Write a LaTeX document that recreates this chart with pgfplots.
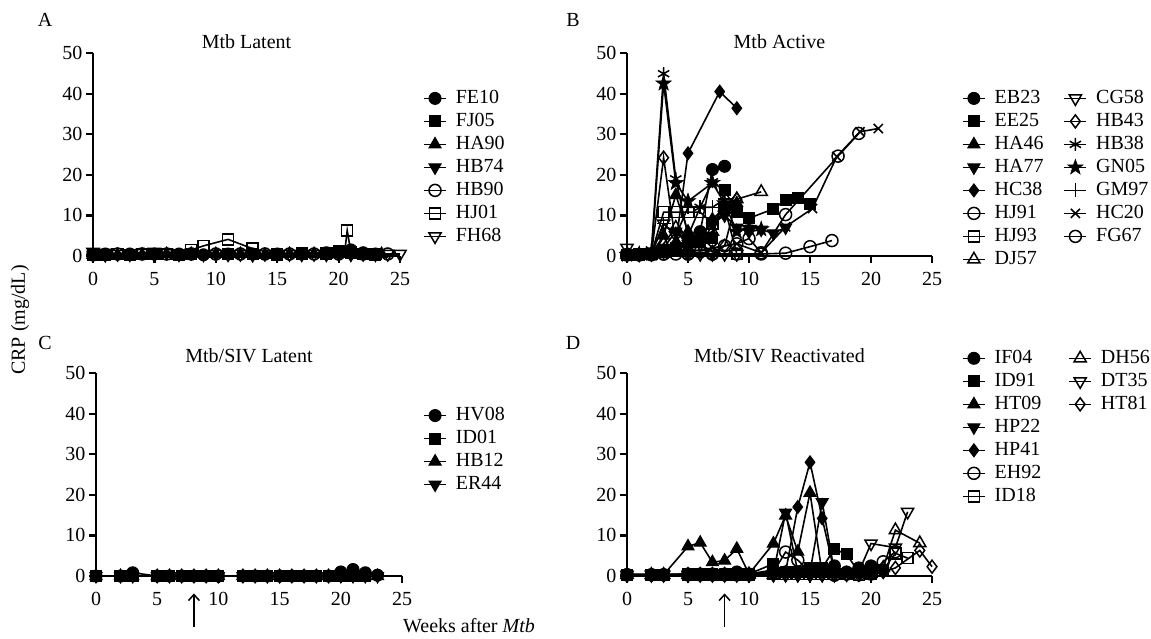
\documentclass[border=0pt]{standalone}
\usepackage{pgfplots}
\pgfplotsset{compat=1.18}
\usepackage{fontspec}
\setmainfont{Liberation Serif}
\usetikzlibrary{arrows.meta}
\newcommand{\fs}{\fontsize{20}{22}\selectfont}
\pgfdeclareplotmark{fstar}{%
  \pgfpathmoveto{\pgfqpointpolar{90}{1.25\pgfplotmarksize}}%
  \pgfpathlineto{\pgfqpointpolar{126}{0.5\pgfplotmarksize}}%
  \pgfpathlineto{\pgfqpointpolar{162}{1.25\pgfplotmarksize}}%
  \pgfpathlineto{\pgfqpointpolar{198}{0.5\pgfplotmarksize}}%
  \pgfpathlineto{\pgfqpointpolar{234}{1.25\pgfplotmarksize}}%
  \pgfpathlineto{\pgfqpointpolar{270}{0.5\pgfplotmarksize}}%
  \pgfpathlineto{\pgfqpointpolar{306}{1.25\pgfplotmarksize}}%
  \pgfpathlineto{\pgfqpointpolar{342}{0.5\pgfplotmarksize}}%
  \pgfpathlineto{\pgfqpointpolar{18}{1.25\pgfplotmarksize}}%
  \pgfpathlineto{\pgfqpointpolar{54}{0.5\pgfplotmarksize}}%
  \pgfpathclose\pgfusepathqfillstroke}
\pgfplotsset{
 dline/.style={black, line width=1.6pt},
 mFC/.style={dline, mark=*, mark size=6pt, mark options={solid, fill=black, line width=1pt}},
 mFS/.style={dline, mark=square*, mark size=5.5pt, mark options={solid, fill=black, line width=1pt}},
 mFT/.style={dline, mark=triangle*, mark size=7pt, mark options={solid, fill=black, line width=1pt}},
 mFV/.style={dline, mark=triangle*, mark size=7pt, mark options={solid, fill=black, line width=1pt, rotate=180}},
 mFD/.style={dline, mark=diamond*, mark size=6.5pt, mark options={solid, fill=black, line width=1pt}},
 mOC/.style={dline, mark=o, mark size=6pt, mark options={solid, line width=1.5pt}},
 mOS/.style={dline, mark=square, mark size=5.5pt, mark options={solid, line width=1.5pt}},
 mOT/.style={dline, mark=triangle, mark size=7pt, mark options={solid, line width=1.5pt}},
 mOV/.style={dline, mark=triangle, mark size=7pt, mark options={solid, line width=1.5pt, rotate=180}},
 mOD/.style={dline, mark=diamond, mark size=6.5pt, mark options={solid, line width=1.5pt}},
 mAst/.style={dline, mark=asterisk, mark size=6.5pt, mark options={solid, line width=1.5pt}},
 mStar/.style={dline, mark=fstar, mark size=6.5pt, mark options={solid, fill=black, line width=0.5pt}},
 mPlus/.style={dline, mark=+, mark size=7pt, mark options={solid, line width=1.5pt}},
 mX/.style={dline, mark=x, mark size=6.5pt, mark options={solid, line width=1.5pt}},
 panel/.style={
  scale only axis, height=203pt,
  xmin=0, xmax=25, ymin=0, ymax=50,
  axis lines=left, axis line style={-, line width=2.5pt},
  xtick={0,5,...,25}, ytick={0,10,...,50},
  tick align=outside, major tick length=7pt,
  tick style={line width=2.2pt, black},
  xticklabel style={font=\fs, yshift=-6pt},
  yticklabel style={font=\fs},
  /pgf/number format/assume math mode=true,
  clip=false,
  legend style={draw=none, fill=none, font=\fs, inner sep=0pt, row sep=4.5pt,
    nodes={inner sep=0pt, text height=14.5pt, text depth=4pt},
    /tikz/every odd column/.style={column sep=9pt},
    /tikz/every even column/.style={column sep=20pt}},
  legend cell align=left,
  legend image code/.code={\draw[mark repeat=2, mark phase=2] plot coordinates {(0pt,0pt) (11pt,0pt) (22pt,0pt)};},
 }
}
\begin{document}
\begin{tikzpicture}
\useasboundingbox (0pt,0pt) rectangle (1151pt,-638pt);
% ---------------- A ----------------
\begin{axis}[panel, width=307pt, at={(93pt,-256pt)}, anchor=south west,
  legend style={at={(1.075,0.823)}, anchor=north west}]
\addplot[mFC] coordinates {(0,0.3)(1,0.5)(3,0.5)(5,0.5)(7,0.5)(8,0.5)(9,0.3)(11,0.5)(13,0.5)(15,0.5)(17,0.5)(19,0.8)(20,1)(21,1.5)(22,0.8)(23,0.5)};
\addlegendentry{FE10}
\addplot[mFS] coordinates {(0,0.2)(1,0.3)(3,0.3)(5,0.5)(7,0.3)(8,0.5)(11,0.5)(13,0.5)(15,0.3)(17,0.8)(19,0.5)(20,1.3)(21,0.8)(22,0.5)(23,0.3)};
\addlegendentry{FJ05}
\addplot[mFT] coordinates {(0,0.3)(2,0.3)(4,0.3)(6,0.5)(8,0.5)(10,0.5)(12,0.5)(14,0.3)(16,0.5)(18,0.5)(20,0.5)(21,0.8)(22,0.5)(23.5,0.5)};
\addlegendentry{HA90}
\addplot[mFV] coordinates {(0,0.3)(1,0.2)(3,0.3)(5,0.2)(7,0.3)(9,0.3)(11,0.3)(13,0.2)(15,0.2)(17,0.3)(19,0.3)(21,0.3)(23,0.3)};
\addlegendentry{HB74}
\addplot[mOC] coordinates {(0,0.3)(2,0.5)(4,0.5)(6,0.5)(8,0.5)(10,0.5)(12,0.5)(14,0.5)(16,0.5)(18,0.5)(20,0.5)(22,0.5)(24,0.5)};
\addlegendentry{HB90}
\addplot[mOS] coordinates {(0,0.3)(2,0.5)(4,0.5)(6,0.5)(8,1.5)(9,2.5)(11,4.1)(13,1.8)(15,0.5)(17,0.5)(19,0.8)(20.5,1)(20.7,6.3)(21,1)(22,0.5)(23,0.5)};
\addlegendentry{HJ01}
\addplot[mOV] coordinates {(0,1)(1,0.8)(2,0.5)(4,0.8)(5,1)(6,0.8)(8,0.8)(10,0.5)(12,0.5)(14,0.5)(16,0.5)(18,0.5)(20,0.5)(22,0.5)(24,0.5)(25,0.5)};
\addlegendentry{FH68}
\node[font=\fs, anchor=base] at (axis description cs:0.5,1.023) {Mtb Latent};
\end{axis}
% ---------------- B ----------------
\begin{axis}[panel, width=305pt, at={(627pt,-256pt)}, anchor=south west,
  legend columns=8, transpose legend,
  legend style={at={(1.098,0.823)}, anchor=north west}]
\addplot[mFC] coordinates {(0,0.3)(1,0.3)(2,0.5)(3,1)(4,2)(5,3)(6,6)(7,21.3)(8,22.1)};
\addlegendentry{EB23}
\addplot[mFS] coordinates {(0,0.3)(1,0.5)(2,0.5)(3,1)(4,2)(5,4)(6,3.5)(7,4.5)(8,16.2)(9,10.9)(10,9.3)(12,11.6)(13,13.8)(14,14.3)(15,12.8)};
\addlegendentry{EE25}
\addplot[mFT] coordinates {(0,0.3)(1,0.3)(2,0.5)(3,5)(4,15)(5,6)(6,4)(7,9)(8,12)(9,13)};
\addlegendentry{HA46}
\addplot[mFV] coordinates {(0,0.3)(1,0.3)(2,0.5)(3,2)(4,6)(5,3)(6,5)(7,8)(8,10)(9,7)(10,6)(11,6.5)(12,5.6)(13,7)};
\addlegendentry{HA77}
\addplot[mFD] coordinates {(0,0.3)(1,0.3)(2,0.5)(3,1)(4,3)(5,25.3)(7.6,40.5)(9,36.4)};
\addlegendentry{HC38}
\addplot[mOC] coordinates {(0,0.3)(1,0.3)(2,0.3)(3,0.5)(4,0.5)(5,0.5)(6,1)(7,0.5)(8,2.5)(9,3)(10,4.3)(11,0.8)(13,10.2)(17.3,24.6)(19,30.2)};
\addlegendentry{HJ91}
\addplot[mOS] coordinates {(0,0.3)(1,0.3)(2,0.5)(3,10.8)(4,10.8)(5,10.8)(6,10.8)(7,8)(8,12)(9,0.5)};
\addlegendentry{HJ93}
\addplot[mOT] coordinates {(0,0.3)(1,0.3)(2,0.5)(3,3)(4,7)(5,2)(6,5)(7,6)(8,12)(9,14)(11,15.8)};
\addlegendentry{DJ57}
\addplot[mOV] coordinates {(0,2)(1,0.5)(2,0.5)(3,8)(4,5)(5,0.5)(6,0.5)(7,0.5)(8,0.5)(9,0.5)};
\addlegendentry{CG58}
\addplot[mOD] coordinates {(0,0.3)(1,0.3)(2,0.5)(3,24.2)(4,3)(5,1.5)(6,3)(7,1)(8,2.5)(9,14)};
\addlegendentry{HB43}
\addplot[mAst] coordinates {(0,0.3)(1,0.3)(2,1.5)(3,44.9)(4,19)(5,5)(6,12)(7,18.3)(8,16)};
\addlegendentry{HB38}
\addplot[mStar] coordinates {(0,0.3)(1,0.5)(2,0.5)(3,42.5)(4,18)(5,13.5)(7,18)(8,13)(9,6)(10,7)(11,6.6)};
\addlegendentry{GN05}
\addplot[mPlus] coordinates {(0,0.3)(1,0.3)(2,0.5)(3,8)(4,5)(5,12)(6,12)(7,12)(8,14)};
\addlegendentry{GM97}
\addplot[mX] coordinates {(0,0.3)(1,0.3)(2,0.5)(3,1)(5,1)(7,2)(9,3)(11,0.8)(13,7.2)(15.2,11.7)(17.2,24.5)(19.1,30.6)(20.6,31.4)};
\addlegendentry{HC20}
\addplot[mOC] coordinates {(0,0.3)(1,0.3)(2,0.5)(3,0.5)(5,0.5)(7,0.5)(9,0.5)(11,0.5)(13,0.7)(15,2.3)(16.8,3.8)};
\addlegendentry{FG67}
\addlegendimage{empty legend}\addlegendentry{}
\node[font=\fs, anchor=base] at (axis description cs:0.5,1.023) {Mtb Active};
\end{axis}
% ---------------- C ----------------
\begin{axis}[panel, width=306pt, at={(96pt,-576pt)}, anchor=south west,
  legend style={at={(1.069,0.837)}, anchor=north west}]
\addplot[mFC] coordinates {(0,0)(2,0)(3,0.8)(5,0)(6,0)(7,0)(8,0)(9,0)(10,0)(12,0)(13,0)(14,0)(15,0)(16,0)(17,0)(18,0)(19,0)(20,1)(21,1.6)(22,0.8)(23,0.2)};
\addlegendentry{HV08}
\addplot[mFS] coordinates {(0,0)(2,0)(2.6,0)(3,0)(5,0)(6,0)(7,0)(8,0)(9,0)(10,0)(12,0)(13,0)(14,0)(15,0)(16,0)(17,0)(18,0)(19,0)(20,0)(21,0)(22,0)};
\addlegendentry{ID01}
\addplot[mFT] coordinates {(0,0)(2,0)(3,0)(5,0)(6,0)(7,0)(8,0)(9,0)(10,0)(12,0)(13,0)(14,0)(15,0)(16,0)(17,0)(18,0)(19,0)(20,0)(21,0)(22,0)(23,0)};
\addlegendentry{HB12}
\addplot[mFV] coordinates {(0,0)(2,0)(3,0)(5,0)(6,0)(7,0)(8,0)(9,0)(10,0)(12,0)(13,0)(14,0)(15,0)(16,0)(17,0)(18,0)(19,0)(20,0)(21,0)(22,0)(23,0)};
\addlegendentry{ER44}
\node[font=\fs, anchor=base] at (axis description cs:0.5,1.052) {Mtb/SIV Latent};
\draw[line width=1.5pt, -{Straight Barb[length=6pt, width=11pt, line width=1.5pt]}] (axis cs:8,-12.5) -- (axis cs:8,-4.3);
\end{axis}
% ---------------- D ----------------
\begin{axis}[panel, width=305pt, at={(627pt,-576pt)}, anchor=south west,
  legend columns=7, transpose legend,
  legend style={at={(1.098,1.119)}, anchor=north west,
    /tikz/every even column/.style={column sep=27pt}}]
\addplot[mFC] coordinates {(0,0.3)(2,0.3)(3,0.3)(5,0.5)(6,0.5)(7,0.5)(8,0.5)(9,1)(10,0.5)(12,1.5)(13,1)(14,1)(15,1.5)(16,1)(17,2.5)(18,1)(19,2)(20,2.5)(21,1.5)};
\addlegendentry{IF04}
\addplot[mFS] coordinates {(0,0.3)(2,0.3)(3,0.3)(5,0.5)(6,0.5)(7,0.5)(8,0.5)(9,0.5)(10,0.5)(12,3)(13,1)(14,1)(15,2)(16,2)(17,6.7)(18,5.3)(19,1)(20,0.5)};
\addlegendentry{ID91}
\addplot[mFT] coordinates {(0,0.3)(2,0.3)(3,0.3)(5,7.3)(6,8.2)(7,3.4)(8,3.8)(9,6.7)(10,0.5)(12,8)(13,14.9)(14,6)(15,20.5)(16,0.5)};
\addlegendentry{HT09}
\addplot[mFV] coordinates {(0,0.3)(2,0.3)(3,0.3)(5,0.3)(6,0.3)(7,0.3)(8,0.3)(9,0.5)(10,0.5)(12,0.8)(13,15.6)(14,1)(15,1)(16,18.2)(17,1)};
\addlegendentry{HP22}
\addplot[mFD] coordinates {(0,0.3)(2,0.3)(3,0.3)(5,0.3)(6,0.5)(7,0.5)(8,0.5)(9,0.5)(10,0.5)(12,1)(13,1)(14,17)(15,28)(16,14.2)(17,1)};
\addlegendentry{HP41}
\addplot[mOC] coordinates {(0,0.3)(2,0.3)(3,0.3)(5,0.3)(6,0.3)(7,0.3)(8,0.3)(9,0.3)(10,0.3)(12,1)(13,5.9)(14,3.9)(15,1)(16,1)(17,0.2)(18,0.5)(19,0.3)(20,0.5)(21,3.5)(22,6)};
\addlegendentry{EH92}
\addplot[mOS] coordinates {(0,0.3)(2,0.3)(3,0.3)(5,0.3)(6,0.3)(7,0.3)(8,0.3)(9,0.3)(10,0.3)(12,0.5)(13,0.5)(14,0.5)(15,0.5)(16,0.5)(17,0.5)(18,0.5)(19,0.2)(20,0.5)(21,1.5)(22,5.6)(23,4.4)};
\addlegendentry{ID18}
\addplot[mOT] coordinates {(0,0.3)(2,0.3)(3,0.3)(5,0.3)(6,0.3)(7,0.3)(8,0.3)(9,0.3)(10,0.3)(12,0.3)(13,0.5)(14,0.5)(15,0.5)(16,0.5)(17,0.5)(18,0.5)(19,0.5)(20,0.5)(21,2)(22,11.3)(24,8.1)};
\addlegendentry{DH56}
\addplot[mOV] coordinates {(0,0.3)(2,0.3)(3,0.3)(5,0.3)(6,0.3)(7,0.3)(8,0.3)(9,0.3)(10,0.3)(12,0.3)(13,0.3)(14,0.3)(15,0.3)(16,0.3)(17,0.3)(18,0.5)(19,1)(20,8)(22,7)(23,15.8)};
\addlegendentry{DT35}
\addplot[mOD] coordinates {(0,0.3)(2,0.3)(3,0.3)(5,0.3)(6,0.3)(7,0.3)(8,0.3)(9,0.3)(10,0.3)(12,0.3)(13,0.3)(14,0.3)(15,0.3)(16,0.3)(17,0.3)(18,0.3)(19,0.3)(20,0.5)(21,1)(22,2)(24,6.3)(25,2.3)};
\addlegendentry{HT81}
\addlegendimage{empty legend}\addlegendentry{}
\addlegendimage{empty legend}\addlegendentry{}
\addlegendimage{empty legend}\addlegendentry{}
\addlegendimage{empty legend}\addlegendentry{}
\node[font=\fs, anchor=base] at (axis description cs:0.5,1.052) {Mtb/SIV Reactivated};
\draw[line width=1.5pt, -{Straight Barb[length=6pt, width=11pt, line width=1.5pt]}] (axis cs:8,-12.5) -- (axis cs:8,-4.3);
\end{axis}
% ---------------- labels ----------------
\node[font=\fs, anchor=base] at (45pt,-26pt) {A};
\node[font=\fs, anchor=base] at (573pt,-26pt) {B};
\node[font=\fs, anchor=base] at (45pt,-349pt) {C};
\node[font=\fs, anchor=base] at (573pt,-349pt) {D};
\node[font=\fs, rotate=90] at (20pt,-320pt) {CRP (mg/dL)};
\node[font=\fs, anchor=base] at (469pt,-632pt) {Weeks after \textit{Mtb}};
\end{tikzpicture}
\end{document}
